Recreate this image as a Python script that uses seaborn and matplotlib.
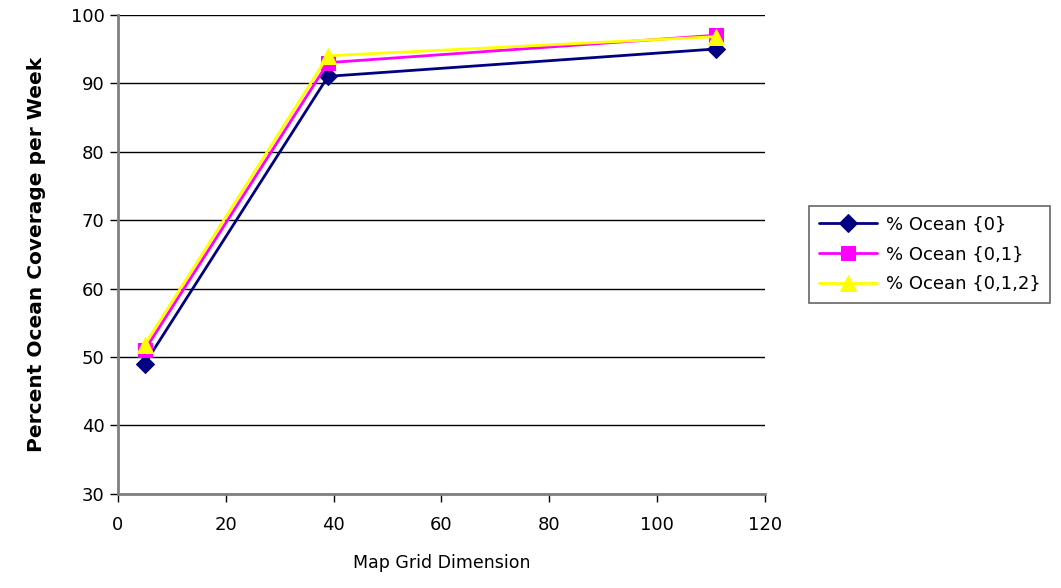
import pandas as pd
import matplotlib
matplotlib.use("Agg")
import matplotlib.pyplot as plt
import seaborn as sns

# data
grid_dim = [5, 39, 111]
ocean_0 = [49.0, 91.0, 95.0]
ocean_01 = [51.0, 93.0, 97.0]
ocean_012 = [51.8, 94.0, 96.8]
labels = ["% Ocean {0}", "% Ocean {0,1}", "% Ocean {0,1,2}"]

df = pd.DataFrame({
    "Map Grid Dimension": grid_dim * 3,
    "Percent": ocean_0 + ocean_01 + ocean_012,
    "Series": [labels[0]] * 3 + [labels[1]] * 3 + [labels[2]] * 3,
})

sns.set_style("white")
plt.rcParams["font.family"] = ["DejaVu Sans"]
plt.rcParams["text.color"] = "black"
plt.rcParams["axes.labelcolor"] = "black"
plt.rcParams["xtick.color"] = "black"
plt.rcParams["ytick.color"] = "black"

fig = plt.figure(figsize=(10.61, 5.88), dpi=100)
ax = fig.add_axes([0.111, 0.160, 0.610, 0.815])

colors = {labels[0]: "#000080", labels[1]: "#FF00FF", labels[2]: "#FFFF00"}
markers = {labels[0]: "D", labels[1]: "s", labels[2]: "^"}
sizes = {labels[0]: 9, labels[1]: 10, labels[2]: 12}

for name in labels:
    sub = df[df["Series"] == name]
    sns.lineplot(data=sub, x="Map Grid Dimension", y="Percent", ax=ax,
                 color=colors[name], marker=markers[name], markersize=sizes[name],
                 markeredgecolor=colors[name], linewidth=2, label=name)

ax.set_xlim(0, 120)
ax.set_ylim(30, 100)
ax.set_xticks(range(0, 121, 20))
ax.set_yticks(range(30, 101, 10))
ax.yaxis.grid(True, color="black", linewidth=1)
ax.set_axisbelow(True)
for s in ["top", "right"]:
    ax.spines[s].set_visible(False)
for s in ["left", "bottom"]:
    ax.spines[s].set_color("#808080")
    ax.spines[s].set_linewidth(2)
ax.tick_params(axis="both", direction="out", length=6, width=1, color="black",
               labelsize=13, bottom=True, left=True)
ax.tick_params(axis="x", pad=10)
ax.set_xlabel("Map Grid Dimension", fontsize=12.5, labelpad=14)
ax.set_ylabel("Percent Ocean Coverage per Week", fontsize=14.5, fontweight="bold", labelpad=18)

leg = ax.legend(loc="center left", bbox_to_anchor=(1.068, 0.5), fontsize=13,
                frameon=True, fancybox=False, handlelength=3.2, handletextpad=0.5,
                borderpad=0.55, labelspacing=0.65, borderaxespad=0)
leg.get_frame().set_edgecolor("#404040")
leg.get_frame().set_linewidth(1.2)

fig.savefig("out.png", dpi=100)
